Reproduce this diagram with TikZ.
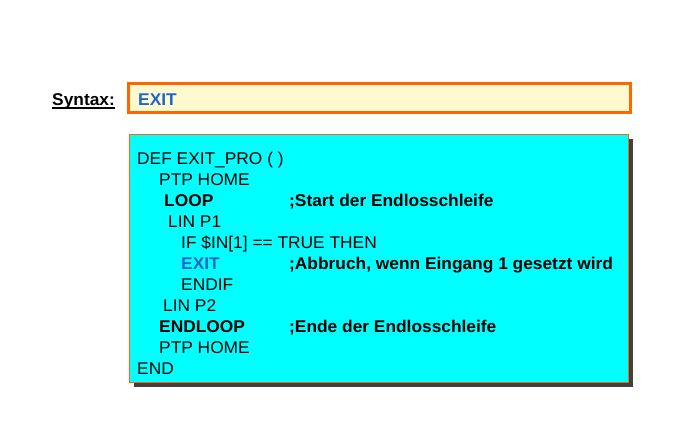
\documentclass[tikz,border=0pt]{standalone}
\usepackage{fontspec}
\setmainfont[FakeStretch=1.02]{Liberation Sans}
\usepackage{tikz}

\definecolor{boxorange}{HTML}{FF6600}
\definecolor{boxyellow}{HTML}{FFF9D0}
\definecolor{codecyan}{HTML}{00FFFF}
\definecolor{kwblue}{HTML}{1F66CC}

\begin{document}
\begin{tikzpicture}[x=1pt, y=-1pt,
  every node/.style={inner sep=0pt, anchor=base west,
    font=\fontsize{17}{21}\selectfont},
  kw/.style={font=\fontsize{17}{21}\selectfont\bfseries},
  exitkw/.style={kw, text=kwblue}]

  \newcommand\YTOP{164};
  \newcommand\DY{21};
  \newcommand\XCMT{289};

  \useasboundingbox (0,0) rectangle (679,437);

  % syntax line
  \draw[line width=3pt, draw=boxorange, fill=boxyellow]
    (128.5,83.5) rectangle (630.5,112.5);
  \node[kw] (syn) at (52,105) {Syntax:};
  \draw[line width=1.6pt] ([yshift=-3pt]syn.base west) -- ([yshift=-3pt]syn.base east);
  \node[exitkw] (synexit) at (138,105) {EXIT};

  % program box with shadow
  \fill[black!75] (134,139) rectangle (633,387);
  \draw[draw=boxorange, fill=codecyan] (129,134) rectangle (628,382);

  \node (ldef)     at (137, \YTOP + 0*\DY) {DEF EXIT\_PRO ( )};
  \node (lptpa)    at (159, \YTOP + 1*\DY) {PTP HOME};
  \node[kw] (lloop)    at (164, \YTOP + 2*\DY) {LOOP};
  \node (llina)    at (168, \YTOP + 3*\DY) {LIN P1};
  \node (lif)      at (181, \YTOP + 4*\DY) {IF \$IN[1] == TRUE THEN};
  \node[exitkw] (lexit) at (181, \YTOP + 5*\DY) {EXIT};
  \node (lendif)   at (181, \YTOP + 6*\DY) {ENDIF};
  \node (llinb)    at (163, \YTOP + 7*\DY) {LIN P2};
  \node[kw] (lendloop) at (159, \YTOP + 8*\DY) {ENDLOOP};
  \node (lptpb)    at (159, \YTOP + 9*\DY) {PTP HOME};
  \node (lend)     at (137, \YTOP + 10*\DY) {END};

  % comments
  \node[kw] (cstart) at (\XCMT, \YTOP + 2*\DY) {;Start der Endlosschleife};
  \node[kw] (cexit)  at (\XCMT, \YTOP + 5*\DY) {;Abbruch, wenn Eingang 1 gesetzt wird};
  \node[kw] (cend)   at (\XCMT, \YTOP + 8*\DY) {;Ende der Endlosschleife};

\end{tikzpicture}
\end{document}
